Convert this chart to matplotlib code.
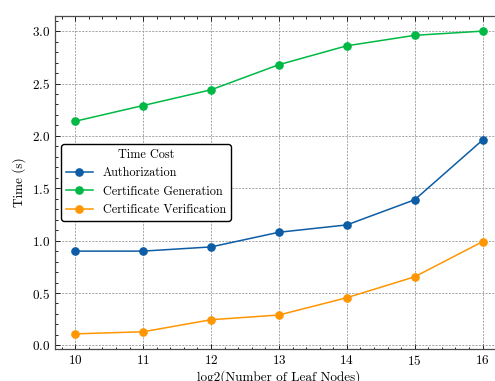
import matplotlib
matplotlib.use('Agg')
import matplotlib.pyplot as plt
from matplotlib.ticker import AutoMinorLocator

leaf_levels = [10, 11, 12, 13, 14, 15, 16]
authorization = [0.90, 0.90, 0.94, 1.08, 1.15, 1.39, 1.96]
cert_generation = [2.14, 2.29, 2.44, 2.68, 2.86, 2.96, 3.00]
cert_verification = [0.11, 0.13, 0.245, 0.29, 0.455, 0.655, 0.99]

series_names = ['Authorization', 'Certificate Generation', 'Certificate Verification']
colors = ['#0C5DA5', '#00B945', '#FF9500']


def main():
    plt.rcParams['font.family'] = 'serif'
    plt.rcParams['font.serif'] = ['cmr10']
    plt.rcParams['mathtext.fontset'] = 'cm'
    plt.rcParams['axes.formatter.use_mathtext'] = True
    plt.rcParams['font.size'] = 9.5

    fig = plt.figure(figsize=(4.95, 3.81), dpi=100)
    # the right edge of the axes runs past the canvas on purpose
    ax = fig.add_axes([0.111, 0.084, 0.905, 0.874])

    for values, name, color in zip([authorization, cert_generation, cert_verification],
                                   series_names, colors):
        ax.plot(leaf_levels, values, marker='o', markersize=5.2, linewidth=1.1,
                color=color, label=name)

    ax.set_xlim(9.7, 16.3)
    ax.set_xlabel('log2(Number of Leaf Nodes)', labelpad=2)
    ax.set_ylabel('Time (s)')
    ax.set_xticks(leaf_levels)

    ax.xaxis.set_minor_locator(AutoMinorLocator(5))
    ax.yaxis.set_minor_locator(AutoMinorLocator(5))
    ax.tick_params(which='both', direction='in', top=True, right=True, width=0.6)
    ax.tick_params(which='major', length=3.5)
    ax.tick_params(which='minor', length=1.8)
    for spine in ax.spines.values():
        spine.set_linewidth(0.9)
        spine.set_color('0.3')

    ax.grid(True, which='major', linestyle=(0, (2.5, 1.5)), linewidth=0.6, color='0.6')

    leg = ax.legend(title='Time Cost', loc='center left', frameon=True,
                    fancybox=True, framealpha=1, edgecolor='black',
                    borderaxespad=0.5, handlelength=2.2, fontsize=8.8,
                    title_fontsize=8.8)
    leg.get_frame().set_linewidth(1.0)

    fig.savefig('out.png', dpi=100)
    plt.close(fig)


if __name__ == "__main__":
    main()
